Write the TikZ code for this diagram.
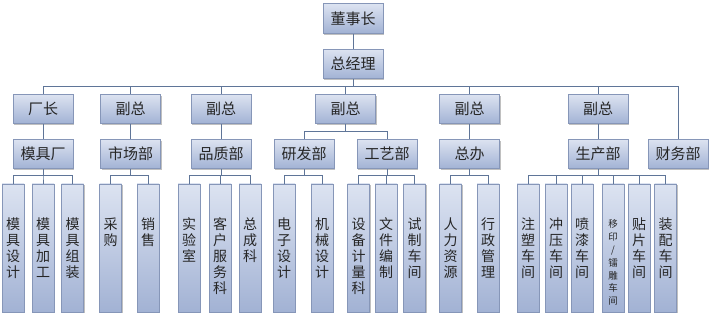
\documentclass[tikz,border=0pt]{standalone}
\usepackage{fontspec}
\setmainfont{Noto Sans CJK SC}
\usetikzlibrary{shadows,calc}
\definecolor{boxtop}{HTML}{DCE3F1}
\definecolor{boxbot}{HTML}{A2B2D4}
\definecolor{boxline}{HTML}{8696B8}
\definecolor{connline}{HTML}{5F7598}
\definecolor{txt}{HTML}{262626}
\begin{document}
\begin{tikzpicture}[x=1pt,y=-1pt,
  box/.style={draw=boxline, line width=0.6pt, top color=boxtop, bottom color=boxbot,
    drop shadow={shadow xshift=1.3pt, shadow yshift=-1.3pt, opacity=0.35, fill=black!70},
    inner sep=0pt, text=txt},
  hbox/.style={box, minimum width=60pt, minimum height=29.5pt,
    font=\fontsize{15pt}{17pt}\selectfont},
  vbox/.style={box, minimum width=22pt, minimum height=128pt},
  vt/.style={label={[anchor=north, yshift=-34pt, align=center, inner sep=0pt, text=txt,
    font=\fontsize{14pt}{16pt}\selectfont]north:{#1}}},
  vts/.style={label={[anchor=north, yshift=-36pt, align=center, inner sep=0pt, text=txt,
    font=\fontsize{9.5pt}{12.8pt}\selectfont]north:{#1}}},
  conn/.style={draw=connline, line width=0.8pt}
]
\useasboundingbox (0,0) rectangle (710,315);
\fill[white] (0,0) rectangle (710,315);

% level 1
\node[hbox] (dsz) at (353,18.5) {董事长};
\node[hbox] (zjl) at (353,64) {总经理};
% level 2
\node[hbox] (cz)  at (43,109) {厂长};
\node[hbox] (fz1) at (130.5,109) {副总};
\node[hbox] (fz2) at (221,109) {副总};
\node[hbox] (fz3) at (345.5,109) {副总};
\node[hbox] (fz4) at (469.5,109) {副总};
\node[hbox] (fz5) at (598,109) {副总};
% level 3
\node[hbox] (mjc) at (43,154) {模具厂};
\node[hbox] (scb) at (130.5,154) {市场部};
\node[hbox] (pzb) at (221,154) {品质部};
\node[hbox] (yfb) at (304,154) {研发部};
\node[hbox] (gyb) at (387,154) {工艺部};
\node[hbox] (zb)  at (469.5,154) {总办};
\node[hbox] (scb2) at (598,154) {生产部};
\node[hbox] (cwb) at (678,154) {财务部};
% level 4
\node[vbox, vt={模\\具\\设\\计}] (a1) at (13,248) {};
\node[vbox, vt={模\\具\\加\\工}] (a2) at (43,248) {};
\node[vbox, vt={模\\具\\组\\装}] (a3) at (72.5,248) {};
\node[vbox, vt={采\\购}] (b1) at (110.5,248) {};
\node[vbox, vt={销\\售}] (b2) at (148,248) {};
\node[vbox, vt={实\\验\\室}] (c1) at (189,248) {};
\node[vbox, vt={客\\户\\服\\务\\科}] (c2) at (220,248) {};
\node[vbox, vt={总\\成\\科}] (c3) at (250,248) {};
\node[vbox, vt={电\\子\\设\\计}] (d1) at (284,248) {};
\node[vbox, vt={机\\械\\设\\计}] (d2) at (322,248) {};
\node[vbox, vt={设\\备\\计\\量\\科}] (e1) at (358.5,248) {};
\node[vbox, vt={文\\件\\编\\制}] (e2) at (386,248) {};
\node[vbox, vt={试\\制\\车\\间}] (e3) at (414.5,248) {};
\node[vbox, vt={人\\力\\资\\源}] (f1) at (450.5,248) {};
\node[vbox, vt={行\\政\\管\\理}] (f2) at (488,248) {};
\node[vbox, vt={注\\塑\\车\\间}] (g1) at (528,248) {};
\node[vbox, vt={冲\\压\\车\\间}] (g2) at (556,248) {};
\node[vbox, vt={喷\\漆\\车\\间}] (g3) at (582,248) {};
\node[vbox, vts={移\\印\\/\\镭\\雕\\车\\间}] (g4) at (613,248) {};
\node[vbox, vt={贴\\片\\车\\间}] (g5) at (639,248) {};
\node[vbox, vt={装\\配\\车\\间}] (g6) at (665.5,248) {};

% connectors (drawn on background order: after boxes but lines end at borders)
\draw[conn] (dsz.south) -- (zjl.north);
\foreach \c in {cz,fz1,fz2,fz3,fz4,fz5}
  \draw[conn] (zjl.south) |- ($(\c.north)+(0,-8)$) -- (\c.north);
\coordinate (bus1) at ($(fz3.north)+(0,-8)$);
\draw[conn] (zjl.south) |- (bus1 -| cwb.north) -- (cwb.north);
\draw[conn] (cz.south) -- (mjc.north);
\draw[conn] (fz1.south) -- (scb.north);
\draw[conn] (fz2.south) -- (pzb.north);
\draw[conn] (fz4.south) -- (zb.north);
\draw[conn] (fz5.south) -- (scb2.north);
\foreach \c in {yfb,gyb}
  \draw[conn] (fz3.south) |- ($(\c.north)+(0,-8)$) -- (\c.north);
\foreach \c in {a1,a2,a3}
  \draw[conn] (mjc.south) |- ($(\c.north)+(0,-8)$) -- (\c.north);
\foreach \c in {b1,b2}
  \draw[conn] (scb.south) |- ($(\c.north)+(0,-8)$) -- (\c.north);
\foreach \c in {c1,c2,c3}
  \draw[conn] (pzb.south) |- ($(\c.north)+(0,-8)$) -- (\c.north);
\foreach \c in {d1,d2}
  \draw[conn] (yfb.south) |- ($(\c.north)+(0,-8)$) -- (\c.north);
\foreach \c in {e1,e2,e3}
  \draw[conn] (gyb.south) |- ($(\c.north)+(0,-8)$) -- (\c.north);
\foreach \c in {f1,f2}
  \draw[conn] (zb.south) |- ($(\c.north)+(0,-8)$) -- (\c.north);
\foreach \c in {g1,g2,g3,g4,g5,g6}
  \draw[conn] (scb2.south) |- ($(\c.north)+(0,-8)$) -- (\c.north);
\end{tikzpicture}
\end{document}
